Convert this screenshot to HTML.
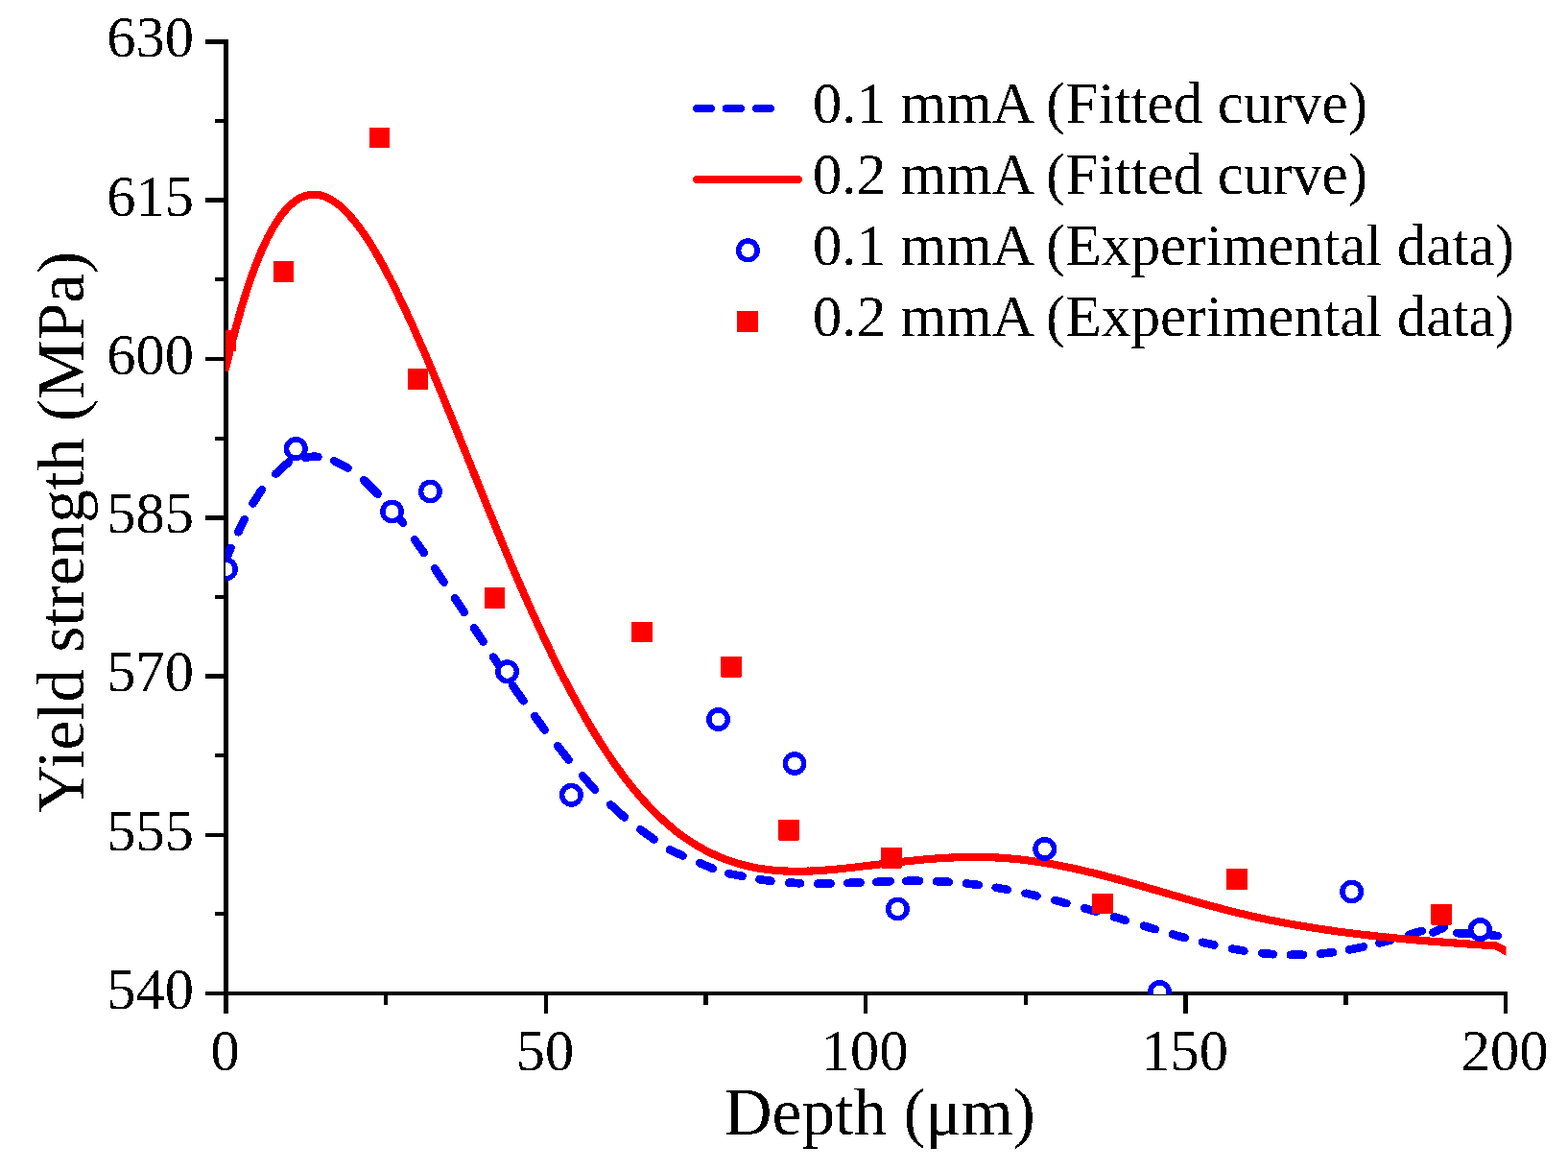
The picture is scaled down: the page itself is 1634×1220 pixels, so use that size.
<!DOCTYPE html>
<html><head><meta charset="utf-8"><title>Yield strength vs Depth</title>
<style>html,body{margin:0;padding:0;background:#fff;}svg{display:block;}
text{font-family:"Liberation Serif","Times New Roman",serif;fill:#000;}</style></head>
<body>
<svg width="1634" height="1220" viewBox="0 0 1634 1220">
<rect width="1634" height="1220" fill="#fff"/>
<defs><filter id="crisp" x="0" y="0" width="1634" height="1220" filterUnits="userSpaceOnUse" color-interpolation-filters="sRGB"><feComponentTransfer><feFuncA type="discrete" tableValues="0 1"/></feComponentTransfer></filter><clipPath id="plot"><rect x="235" y="0" width="1334.5" height="1036"/></clipPath></defs>
<g shape-rendering="crispEdges">
<rect x="233" y="41" width="5" height="1015" fill="#000"/>
<rect x="233" y="1033" width="1338" height="4" fill="#000"/>
<rect x="214" y="41" width="19" height="5" fill="#000"/>
<rect x="214" y="206" width="19" height="5" fill="#000"/>
<rect x="214" y="372" width="19" height="4" fill="#000"/>
<rect x="214" y="537" width="19" height="5" fill="#000"/>
<rect x="214" y="702" width="19" height="5" fill="#000"/>
<rect x="214" y="868" width="19" height="4" fill="#000"/>
<rect x="214" y="1033" width="19" height="4" fill="#000"/>
<rect x="224" y="124" width="9" height="4" fill="#000"/>
<rect x="224" y="289" width="9" height="4" fill="#000"/>
<rect x="224" y="455" width="9" height="4" fill="#000"/>
<rect x="224" y="620" width="9" height="4" fill="#000"/>
<rect x="224" y="785" width="9" height="4" fill="#000"/>
<rect x="224" y="950" width="9" height="4" fill="#000"/>
<rect x="233" y="1037" width="5" height="19" fill="#000"/>
<rect x="567" y="1037" width="4" height="19" fill="#000"/>
<rect x="900" y="1037" width="4" height="19" fill="#000"/>
<rect x="1233" y="1037" width="5" height="19" fill="#000"/>
<rect x="1567" y="1037" width="4" height="19" fill="#000"/>
<rect x="400" y="1037" width="4" height="10" fill="#000"/>
<rect x="733" y="1037" width="5" height="10" fill="#000"/>
<rect x="1067" y="1037" width="4" height="10" fill="#000"/>
<rect x="1400" y="1037" width="5" height="10" fill="#000"/>
</g>
<g clip-path="url(#plot)">
<path filter="url(#crisp)" d="M235.6,583.0 L236.2,581.2 L237.0,579.4 L237.8,577.5 L238.5,575.6 L239.2,573.8 L240.0,572.0 L240.5,570.8 M248.3,554.3 L254.7,541.2 M263.6,524.5 L272.7,510.2 M287.3,493.7 L300.8,481.4 M318.3,476.7 L318.8,476.7 L319.5,476.5 L320.2,476.4 L321.0,476.3 L321.8,476.2 L322.5,476.1 L323.2,476.0 L324.0,476.0 L324.8,475.9 L325.5,475.9 L326.2,475.9 L327.0,475.8 L327.8,475.8 L328.5,475.8 L329.2,475.9 L330.0,475.9 L330.8,475.9 L331.5,476.0 M348.3,480.2 L362.6,487.7 M379.0,500.0 L393.6,514.6 M409.3,531.6 L409.5,531.8 L410.2,532.7 L411.0,533.7 L411.8,534.6 L412.5,535.5 L413.2,536.5 L414.0,537.4 L414.8,538.3 L415.5,539.3 L416.2,540.2 L417.0,541.2 L417.8,542.2 L418.5,543.1 L419.2,544.1 L419.8,544.8 M432.2,562.4 L441.7,575.9 M453.2,592.3 L462.7,606.7 M474.2,623.4 L483.7,637.8 M494.1,654.3 L503.6,668.7 M514.2,684.6 L514.5,685.1 L515.2,686.2 L516.0,687.3 L516.8,688.4 L517.5,689.5 L518.2,690.7 L519.0,691.8 L519.8,692.9 L520.5,694.0 L521.2,695.1 L522.0,696.2 L522.8,697.3 L523.5,698.4 L523.7,698.7 M534.3,714.2 L534.8,714.9 L535.5,716.0 L536.2,717.1 L537.0,718.1 L537.8,719.2 L538.5,720.3 L539.2,721.4 L540.0,722.4 L540.8,723.5 L541.5,724.6 L542.2,725.7 L543.0,726.7 L543.8,727.8 L544.5,728.9 L545.2,729.9 L545.5,730.3 M557.2,746.1 L567.6,760.4 M581.2,777.2 L592.5,791.6 M607.2,808.3 L619.7,822.7 M636.3,838.3 L650.7,851.5 M667.4,864.2 L681.6,874.5 M698.2,885.4 L711.6,891.6 M729.3,899.2 L742.7,904.7 M759.3,910.3 L773.6,912.7 M791.4,916.2 L792.0,916.3 L792.8,916.4 L793.5,916.5 L794.2,916.6 L795.0,916.8 L795.8,916.9 L796.5,917.0 L797.2,917.1 L798.0,917.2 L798.8,917.3 L799.5,917.4 L800.2,917.5 L801.0,917.6 L801.8,917.7 L802.5,917.8 L803.2,917.9 L803.4,917.9 M822.2,919.6 L822.8,919.6 L823.5,919.7 L824.2,919.7 L825.0,919.8 L825.8,919.8 L826.5,919.9 L827.2,919.9 L828.0,919.9 L828.8,920.0 L829.5,920.0 L830.2,920.0 L831.0,920.1 L831.8,920.1 L832.5,920.1 L833.2,920.2 L834.0,920.2 L834.2,920.2 M852.3,920.6 L852.8,920.6 L853.5,920.6 L854.2,920.6 L855.0,920.6 L855.8,920.6 L856.5,920.6 L857.2,920.5 L858.0,920.5 L858.8,920.5 L859.5,920.5 L860.2,920.5 L861.0,920.5 L861.8,920.5 L862.5,920.5 L863.2,920.5 L864.0,920.5 L864.8,920.5 L865.5,920.5 L865.7,920.5 M883.3,920.0 L883.5,920.0 L884.2,920.0 L885.0,919.9 L885.8,919.9 L886.5,919.9 L887.2,919.9 L888.0,919.8 L888.8,919.8 L889.5,919.8 L890.2,919.8 L891.0,919.7 L891.8,919.7 L892.5,919.7 L893.2,919.6 L894.0,919.6 L894.8,919.6 L895.5,919.6 L896.2,919.5 L896.6,919.5 M913.3,918.8 L913.5,918.8 L914.2,918.8 L915.0,918.8 L915.8,918.7 L916.5,918.7 L917.2,918.7 L918.0,918.7 L918.8,918.6 L919.5,918.6 L920.2,918.6 L921.0,918.5 L921.8,918.5 L922.5,918.5 L923.2,918.5 L924.0,918.4 L924.8,918.4 L925.5,918.4 L926.2,918.4 L927.0,918.3 L927.7,918.3 M944.3,917.9 L945.0,917.9 L945.8,917.9 L946.5,917.9 L947.2,917.8 L948.0,917.8 L948.8,917.8 L949.5,917.8 L950.2,917.8 L951.0,917.8 L951.8,917.8 L952.5,917.8 L953.2,917.8 L954.0,917.8 L954.8,917.8 L955.5,917.8 L956.2,917.8 L957.0,917.8 L957.8,917.8 L958.0,917.8 M976.0,918.1 L976.5,918.2 L977.2,918.2 L978.0,918.2 L978.8,918.3 L979.5,918.3 L980.2,918.3 L981.0,918.4 L981.8,918.4 L982.5,918.4 L983.2,918.5 L984.0,918.5 L984.8,918.6 L985.5,918.6 L986.2,918.7 L987.0,918.7 L987.8,918.8 L988.5,918.8 L988.8,918.8 M1006.8,920.4 L1007.2,920.5 L1008.0,920.5 L1008.8,920.6 L1009.5,920.7 L1010.2,920.8 L1011.0,920.9 L1011.8,921.0 L1012.5,921.1 L1013.2,921.2 L1014.0,921.2 L1014.8,921.3 L1015.5,921.4 L1016.2,921.5 L1017.0,921.6 L1017.8,921.7 L1018.5,921.8 L1019.2,921.9 L1019.7,922.0 M1037.7,924.7 L1038.0,924.8 L1038.8,924.9 L1039.5,925.0 L1040.2,925.1 L1041.0,925.3 L1041.8,925.4 L1042.5,925.5 L1043.2,925.7 L1044.0,925.8 L1044.8,925.9 L1045.5,926.1 L1046.2,926.2 L1047.0,926.3 L1047.8,926.5 L1048.5,926.6 L1049.2,926.8 L1049.7,926.9 M1068.5,930.7 L1068.8,930.7 L1069.5,930.9 L1070.2,931.1 L1071.0,931.2 L1071.8,931.4 L1072.5,931.6 L1073.2,931.7 L1074.0,931.9 L1074.8,932.1 L1075.5,932.2 L1076.2,932.4 L1077.0,932.6 L1077.8,932.7 L1078.5,932.9 L1079.2,933.1 L1080.0,933.3 L1080.5,933.4 M1099.3,938.0 L1099.5,938.0 L1100.2,938.2 L1101.0,938.4 L1101.8,938.6 L1102.5,938.8 L1103.2,939.0 L1104.0,939.2 L1104.8,939.4 L1105.5,939.6 L1106.2,939.8 L1107.0,940.0 L1107.8,940.2 L1108.5,940.4 L1109.2,940.6 L1110.0,940.8 L1110.8,941.0 L1111.3,941.1 M1130.3,946.3 L1131.0,946.5 L1131.8,946.8 L1132.5,947.0 L1133.2,947.2 L1134.0,947.4 L1134.8,947.6 L1135.5,947.8 L1136.2,948.0 L1137.0,948.3 L1137.8,948.5 L1138.5,948.7 L1139.2,948.9 L1140.0,949.1 L1140.8,949.3 L1141.5,949.5 L1142.2,949.8 M1161.1,955.3 L1161.8,955.5 L1162.5,955.7 L1163.2,956.0 L1164.0,956.2 L1164.8,956.4 L1165.5,956.6 L1166.2,956.9 L1167.0,957.1 L1167.8,957.3 L1168.5,957.5 L1169.2,957.8 L1170.0,958.0 L1170.8,958.2 L1171.5,958.4 L1172.2,958.7 L1173.0,958.9 M1191.9,964.6 L1192.5,964.8 L1193.2,965.0 L1194.0,965.2 L1194.8,965.5 L1195.5,965.7 L1196.2,965.9 L1197.0,966.1 L1197.8,966.4 L1198.5,966.6 L1199.2,966.8 L1200.0,967.0 L1200.8,967.2 L1201.5,967.5 L1202.2,967.7 L1203.0,967.9 L1203.8,968.1 L1203.9,968.2 M1221.9,973.4 L1222.5,973.6 L1223.2,973.8 L1224.0,974.0 L1224.8,974.2 L1225.5,974.4 L1226.2,974.6 L1227.0,974.8 L1227.8,975.1 L1228.5,975.3 L1229.2,975.5 L1230.0,975.7 L1230.8,975.9 L1231.5,976.1 L1232.2,976.3 L1233.0,976.5 L1233.8,976.7 L1234.5,976.9 L1234.9,977.0 M1253.0,981.7 L1253.2,981.7 L1254.0,981.9 L1254.8,982.1 L1255.5,982.3 L1256.2,982.5 L1257.0,982.7 L1257.8,982.8 L1258.5,983.0 L1259.2,983.2 L1260.0,983.4 L1260.8,983.5 L1261.5,983.7 L1262.2,983.9 L1263.0,984.1 L1263.8,984.2 L1264.5,984.4 L1265.2,984.6 L1265.3,984.6 M1284.1,988.5 L1284.8,988.6 L1285.5,988.7 L1286.2,988.9 L1287.0,989.0 L1287.8,989.1 L1288.5,989.3 L1289.2,989.4 L1290.0,989.5 L1290.8,989.6 L1291.5,989.8 L1292.2,989.9 L1293.0,990.0 L1293.8,990.1 L1294.5,990.3 L1295.2,990.4 L1296.0,990.5 L1296.4,990.6 M1315.2,993.1 L1315.5,993.1 L1316.2,993.2 L1317.0,993.3 L1317.8,993.3 L1318.5,993.4 L1319.2,993.5 L1320.0,993.6 L1320.8,993.6 L1321.5,993.7 L1322.2,993.8 L1323.0,993.8 L1323.8,993.9 L1324.5,993.9 L1325.2,994.0 L1326.0,994.1 L1326.8,994.1 L1326.9,994.1 M1344.9,994.9 L1345.5,994.9 L1346.2,994.9 L1347.0,994.9 L1347.8,994.9 L1348.5,994.9 L1349.2,994.9 L1350.0,994.9 L1350.8,994.9 L1351.5,994.9 L1352.2,994.9 L1353.0,994.9 L1353.8,994.9 L1354.5,994.8 L1355.2,994.8 L1356.0,994.8 L1356.8,994.8 L1357.5,994.8 L1358.0,994.7 M1376.0,993.6 L1376.2,993.5 L1377.0,993.5 L1377.8,993.4 L1378.5,993.3 L1379.2,993.2 L1380.0,993.2 L1380.8,993.1 L1381.5,993.0 L1382.2,992.9 L1383.0,992.8 L1383.8,992.7 L1384.5,992.6 L1385.2,992.6 L1386.0,992.5 L1386.8,992.4 L1387.5,992.3 L1388.2,992.2 L1389.0,992.1 L1389.1,992.1 M1406.1,989.4 L1406.2,989.3 L1407.0,989.2 L1407.8,989.1 L1408.5,988.9 L1409.2,988.8 L1410.0,988.6 L1410.8,988.5 L1411.5,988.3 L1412.2,988.2 L1413.0,988.0 L1413.8,987.9 L1414.5,987.7 L1415.2,987.6 L1416.0,987.4 L1416.8,987.3 L1417.5,987.1 L1418.2,987.0 L1419.0,986.8 L1419.8,986.7 L1420.5,986.5 L1420.8,986.4 M1437.3,982.5 L1437.8,982.4 L1438.5,982.2 L1439.2,982.0 L1440.0,981.9 L1440.8,981.7 L1441.5,981.5 L1442.2,981.3 L1443.0,981.1 L1443.8,980.9 L1444.5,980.7 L1445.2,980.5 L1446.0,980.3 L1446.8,980.1 L1447.5,979.9 L1448.2,979.7 L1449.0,979.5 L1449.6,979.3 M1468.3,973.9 L1468.5,973.8 L1469.2,973.6 L1470.0,973.4 L1470.8,973.1 L1471.5,972.9 L1472.2,972.7 L1473.0,972.4 L1473.8,972.2 L1474.5,972.0 L1475.2,971.7 L1476.0,971.5 L1476.8,971.3 L1477.5,971.0 L1478.2,970.8 L1479.0,970.6 L1479.8,970.3 L1480.5,970.1 L1481.2,969.9 L1481.7,969.7 M1493.3,971.4 L1498.0,969.5 L1504.8,966.1 M1518.3,972.1 L1528.5,972.3 L1531.7,972.5 M1548.3,973.8 L1560.7,975.0" stroke="#0000ff" stroke-width="8.6" stroke-linecap="round" stroke-linejoin="round" fill="none"/>
<path filter="url(#crisp)" d="M235.5,382.9 L236.2,379.6 L237.0,376.4 L237.8,373.3 L238.5,370.1 L239.2,367.0 L240.0,364.0 L240.8,360.9 L241.5,357.9 L242.2,355.0 L243.0,352.0 L243.8,349.1 L244.5,346.3 L245.2,343.4 L246.0,340.6 L246.8,337.9 L247.5,335.1 L248.2,332.4 L249.0,329.7 L249.8,327.1 L250.5,324.5 L251.2,321.9 L252.0,319.4 L252.8,316.8 L253.5,314.4 L254.2,311.9 L255.0,309.5 L255.8,307.1 L256.5,304.7 L257.2,302.4 L258.0,300.1 L258.8,297.8 L259.5,295.6 L260.2,293.4 L261.0,291.2 L261.8,289.0 L262.5,286.9 L263.2,284.8 L264.0,282.8 L264.8,280.7 L265.5,278.7 L266.2,276.8 L267.0,274.8 L267.8,272.9 L268.5,271.0 L269.2,269.1 L270.0,267.3 L270.8,265.5 L271.5,263.7 L272.2,262.0 L273.0,260.3 L273.8,258.6 L274.5,256.9 L275.2,255.3 L276.0,253.7 L276.8,252.1 L277.5,250.6 L278.2,249.0 L279.0,247.5 L279.8,246.1 L280.5,244.6 L281.2,243.2 L282.0,241.8 L282.8,240.5 L283.5,239.1 L284.2,237.8 L285.0,236.5 L285.8,235.3 L286.5,234.0 L287.2,232.8 L288.0,231.6 L288.8,230.5 L289.5,229.4 L290.2,228.3 L291.0,227.2 L291.8,226.1 L292.5,225.1 L293.2,224.1 L294.0,223.1 L294.8,222.1 L295.5,221.2 L296.2,220.3 L297.0,219.4 L297.8,218.6 L298.5,217.7 L299.2,216.9 L300.0,216.1 L300.8,215.4 L301.5,214.6 L302.2,213.9 L303.0,213.2 L303.8,212.6 L304.5,211.9 L305.2,211.3 L306.0,210.7 L306.8,210.1 L307.5,209.6 L308.2,209.0 L309.0,208.5 L309.8,208.0 L310.5,207.6 L311.2,207.1 L312.0,206.7 L312.8,206.3 L313.5,205.9 L314.2,205.6 L315.0,205.2 L315.8,204.9 L316.5,204.6 L317.2,204.3 L318.0,204.1 L318.8,203.9 L319.5,203.6 L320.2,203.5 L321.0,203.3 L321.8,203.1 L322.5,203.0 L323.2,202.9 L324.0,202.8 L324.8,202.7 L325.5,202.7 L326.2,202.7 L327.0,202.7 L327.8,202.7 L328.5,202.7 L329.2,202.7 L330.0,202.8 L330.8,202.9 L331.5,203.0 L332.2,203.1 L333.0,203.3 L333.8,203.4 L334.5,203.6 L335.2,203.8 L336.0,204.0 L336.8,204.3 L337.5,204.5 L338.2,204.8 L339.0,205.1 L339.8,205.4 L340.5,205.7 L341.2,206.0 L342.0,206.4 L342.8,206.8 L343.5,207.2 L344.2,207.6 L345.0,208.0 L345.8,208.4 L346.5,208.9 L347.2,209.4 L348.0,209.9 L348.8,210.4 L349.5,210.9 L350.2,211.4 L351.0,212.0 L351.8,212.6 L352.5,213.2 L353.2,213.8 L354.0,214.4 L354.8,215.0 L355.5,215.7 L356.2,216.4 L357.0,217.0 L357.8,217.7 L358.5,218.4 L359.2,219.2 L360.0,219.9 L360.8,220.7 L361.5,221.4 L362.2,222.2 L363.0,223.0 L363.8,223.9 L364.5,224.7 L365.2,225.5 L366.0,226.4 L366.8,227.3 L367.5,228.1 L368.2,229.0 L369.0,229.9 L369.8,230.9 L370.5,231.8 L371.2,232.8 L372.0,233.7 L372.8,234.7 L373.5,235.7 L374.2,236.7 L375.0,237.7 L375.8,238.8 L376.5,239.8 L377.2,240.8 L378.0,241.9 L378.8,243.0 L379.5,244.1 L380.2,245.2 L381.0,246.3 L381.8,247.4 L382.5,248.6 L383.2,249.7 L384.0,250.9 L384.8,252.0 L385.5,253.2 L386.2,254.4 L387.0,255.6 L387.8,256.8 L388.5,258.1 L389.2,259.3 L390.0,260.5 L390.8,261.8 L391.5,263.1 L392.2,264.4 L393.0,265.6 L393.8,266.9 L394.5,268.2 L395.2,269.6 L396.0,270.9 L396.8,272.2 L397.5,273.6 L398.2,274.9 L399.0,276.3 L399.8,277.7 L400.5,279.1 L401.2,280.4 L402.0,281.8 L402.8,283.3 L403.5,284.7 L404.2,286.1 L405.0,287.5 L405.8,289.0 L406.5,290.4 L407.2,291.9 L408.0,293.4 L408.8,294.8 L409.5,296.3 L410.2,297.8 L411.0,299.3 L411.8,300.8 L412.5,302.3 L413.2,303.8 L414.0,305.4 L414.8,306.9 L415.5,308.5 L416.2,310.0 L417.0,311.6 L417.8,313.1 L418.5,314.7 L419.2,316.3 L420.0,317.8 L420.8,319.4 L421.5,321.0 L422.2,322.6 L423.0,324.2 L423.8,325.8 L424.5,327.4 L425.2,329.1 L426.0,330.7 L426.8,332.3 L427.5,334.0 L428.2,335.6 L429.0,337.3 L429.8,338.9 L430.5,340.6 L431.2,342.2 L432.0,343.9 L432.8,345.6 L433.5,347.3 L434.2,349.0 L435.0,350.7 L435.8,352.3 L436.5,354.1 L437.2,355.8 L438.0,357.5 L438.8,359.2 L439.5,360.9 L440.2,362.6 L441.0,364.4 L441.8,366.1 L442.5,367.8 L443.2,369.6 L444.0,371.3 L444.8,373.1 L445.5,374.8 L446.2,376.6 L447.0,378.3 L447.8,380.1 L448.5,381.9 L449.2,383.6 L450.0,385.4 L450.8,387.2 L451.5,389.0 L452.2,390.8 L453.0,392.5 L453.8,394.3 L454.5,396.1 L455.2,397.9 L456.0,399.7 L456.8,401.5 L457.5,403.3 L458.2,405.2 L459.0,407.0 L459.8,408.8 L460.5,410.6 L461.2,412.4 L462.0,414.2 L462.8,416.1 L463.5,417.9 L464.2,419.7 L465.0,421.6 L465.8,423.4 L466.5,425.2 L467.2,427.1 L468.0,428.9 L468.8,430.8 L469.5,432.6 L470.2,434.4 L471.0,436.3 L471.8,438.1 L472.5,440.0 L473.2,441.8 L474.0,443.7 L474.8,445.6 L475.5,447.4 L476.2,449.3 L477.0,451.1 L477.8,453.0 L478.5,454.9 L479.2,456.7 L480.0,458.6 L480.8,460.4 L481.5,462.3 L482.2,464.2 L483.0,466.0 L483.8,467.9 L484.5,469.8 L485.2,471.6 L486.0,473.5 L486.8,475.4 L487.5,477.2 L488.2,479.1 L489.0,481.0 L489.8,482.9 L490.5,484.7 L491.2,486.6 L492.0,488.5 L492.8,490.3 L493.5,492.2 L494.2,494.1 L495.0,495.9 L495.8,497.8 L496.5,499.7 L497.2,501.5 L498.0,503.4 L498.8,505.3 L499.5,507.1 L500.2,509.0 L501.0,510.8 L501.8,512.7 L502.5,514.6 L503.2,516.4 L504.0,518.3 L504.8,520.1 L505.5,522.0 L506.2,523.8 L507.0,525.7 L507.8,527.5 L508.5,529.4 L509.2,531.2 L510.0,533.1 L510.8,534.9 L511.5,536.8 L512.2,538.6 L513.0,540.4 L513.8,542.3 L514.5,544.1 L515.2,545.9 L516.0,547.8 L516.8,549.6 L517.5,551.4 L518.2,553.2 L519.0,555.0 L519.8,556.9 L520.5,558.7 L521.2,560.5 L522.0,562.3 L522.8,564.1 L523.5,565.9 L524.2,567.7 L525.0,569.5 L525.8,571.3 L526.5,573.1 L527.2,574.9 L528.0,576.6 L528.8,578.4 L529.5,580.2 L530.2,582.0 L531.0,583.8 L531.8,585.5 L532.5,587.3 L533.2,589.1 L534.0,590.8 L534.8,592.6 L535.5,594.3 L536.2,596.1 L537.0,597.8 L537.8,599.6 L538.5,601.3 L539.2,603.1 L540.0,604.8 L540.8,606.5 L541.5,608.3 L542.2,610.0 L543.0,611.7 L543.8,613.4 L544.5,615.1 L545.2,616.8 L546.0,618.6 L546.8,620.3 L547.5,622.0 L548.2,623.7 L549.0,625.3 L549.8,627.0 L550.5,628.7 L551.2,630.4 L552.0,632.1 L552.8,633.8 L553.5,635.4 L554.2,637.1 L555.0,638.8 L555.8,640.4 L556.5,642.1 L557.2,643.7 L558.0,645.4 L558.8,647.0 L559.5,648.6 L560.2,650.3 L561.0,651.9 L561.8,653.5 L562.5,655.1 L563.2,656.8 L564.0,658.4 L564.8,660.0 L565.5,661.6 L566.2,663.2 L567.0,664.8 L567.8,666.4 L568.5,667.9 L569.2,669.5 L570.0,671.1 L570.8,672.7 L571.5,674.2 L572.2,675.8 L573.0,677.4 L573.8,678.9 L574.5,680.5 L575.2,682.0 L576.0,683.5 L576.8,685.1 L577.5,686.6 L578.2,688.1 L579.0,689.6 L579.8,691.2 L580.5,692.7 L581.2,694.2 L582.0,695.7 L582.8,697.2 L583.5,698.7 L584.2,700.1 L585.0,701.6 L585.8,703.1 L586.5,704.6 L587.2,706.0 L588.0,707.5 L588.8,708.9 L589.5,710.4 L590.2,711.8 L591.0,713.2 L591.8,714.7 L592.5,716.1 L593.2,717.5 L594.0,718.9 L594.8,720.3 L595.5,721.7 L596.2,723.1 L597.0,724.5 L597.8,725.9 L598.5,727.3 L599.2,728.7 L600.0,730.0 L600.8,731.4 L601.5,732.8 L602.2,734.1 L603.0,735.5 L603.8,736.8 L604.5,738.2 L605.2,739.5 L606.0,740.8 L606.8,742.1 L607.5,743.5 L608.2,744.8 L609.0,746.1 L609.8,747.4 L610.5,748.7 L611.2,750.0 L612.0,751.2 L612.8,752.5 L613.5,753.8 L614.2,755.1 L615.0,756.3 L615.8,757.6 L616.5,758.8 L617.2,760.1 L618.0,761.3 L618.8,762.5 L619.5,763.8 L620.2,765.0 L621.0,766.2 L621.8,767.4 L622.5,768.6 L623.2,769.8 L624.0,771.0 L624.8,772.2 L625.5,773.4 L626.2,774.6 L627.0,775.7 L627.8,776.9 L628.5,778.1 L629.2,779.2 L630.0,780.4 L630.8,781.5 L631.5,782.6 L632.2,783.8 L633.0,784.9 L633.8,786.0 L634.5,787.1 L635.2,788.2 L636.0,789.3 L636.8,790.4 L637.5,791.5 L638.2,792.6 L639.0,793.7 L639.8,794.8 L640.5,795.8 L641.2,796.9 L642.0,798.0 L642.8,799.0 L643.5,800.1 L644.2,801.1 L645.0,802.1 L645.8,803.1 L646.5,804.2 L647.2,805.2 L648.0,806.2 L648.8,807.2 L649.5,808.2 L650.2,809.2 L651.0,810.2 L651.8,811.2 L652.5,812.1 L653.2,813.1 L654.0,814.1 L654.8,815.0 L655.5,816.0 L656.2,816.9 L657.0,817.9 L657.8,818.8 L658.5,819.7 L659.2,820.6 L660.0,821.6 L660.8,822.5 L661.5,823.4 L662.2,824.3 L663.0,825.2 L663.8,826.1 L664.5,826.9 L665.2,827.8 L666.0,828.7 L666.8,829.6 L667.5,830.4 L668.2,831.3 L669.0,832.1 L669.8,833.0 L670.5,833.8 L671.2,834.6 L672.0,835.5 L672.8,836.3 L673.5,837.1 L674.2,837.9 L675.0,838.7 L675.8,839.5 L676.5,840.3 L677.2,841.1 L678.0,841.9 L678.8,842.6 L679.5,843.4 L680.2,844.2 L681.0,844.9 L681.8,845.7 L682.5,846.4 L683.2,847.2 L684.0,847.9 L684.8,848.6 L685.5,849.4 L686.2,850.1 L687.0,850.8 L687.8,851.5 L688.5,852.2 L689.2,852.9 L690.0,853.6 L690.8,854.3 L691.5,855.0 L692.2,855.7 L693.0,856.3 L693.8,857.0 L694.5,857.7 L695.2,858.3 L696.0,859.0 L696.8,859.6 L697.5,860.2 L698.2,860.9 L699.0,861.5 L699.8,862.1 L700.5,862.7 L701.2,863.4 L702.0,864.0 L702.8,864.6 L703.5,865.2 L704.2,865.8 L705.0,866.3 L705.8,866.9 L706.5,867.5 L707.2,868.1 L708.0,868.6 L708.8,869.2 L709.5,869.8 L710.2,870.3 L711.0,870.9 L711.8,871.4 L712.5,871.9 L713.2,872.5 L714.0,873.0 L714.8,873.5 L715.5,874.0 L716.2,874.5 L717.0,875.1 L717.8,875.6 L718.5,876.1 L719.2,876.6 L720.0,877.0 L720.8,877.5 L721.5,878.0 L722.2,878.5 L723.0,878.9 L723.8,879.4 L724.5,879.9 L725.2,880.3 L726.0,880.8 L726.8,881.2 L727.5,881.7 L728.2,882.1 L729.0,882.5 L729.8,883.0 L730.5,883.4 L731.2,883.8 L732.0,884.2 L732.8,884.6 L733.5,885.0 L734.2,885.4 L735.0,885.8 L735.8,886.2 L736.5,886.6 L737.2,887.0 L738.0,887.4 L738.8,887.8 L739.5,888.1 L740.2,888.5 L741.0,888.9 L741.8,889.2 L742.5,889.6 L743.2,889.9 L744.0,890.3 L744.8,890.6 L745.5,891.0 L746.2,891.3 L747.0,891.6 L747.8,892.0 L748.5,892.3 L749.2,892.6 L750.0,892.9 L750.8,893.2 L751.5,893.5 L752.2,893.8 L753.0,894.1 L753.8,894.4 L754.5,894.7 L755.2,895.0 L756.0,895.3 L756.8,895.6 L757.5,895.9 L758.2,896.1 L759.0,896.4 L759.8,896.7 L760.5,896.9 L761.2,897.2 L762.0,897.4 L762.8,897.7 L763.5,897.9 L764.2,898.2 L765.0,898.4 L765.8,898.7 L766.5,898.9 L767.2,899.1 L768.0,899.3 L768.8,899.6 L769.5,899.8 L770.2,900.0 L771.0,900.2 L771.8,900.4 L772.5,900.6 L773.2,900.8 L774.0,901.0 L774.8,901.2 L775.5,901.4 L776.2,901.6 L777.0,901.8 L777.8,902.0 L778.5,902.1 L779.2,902.3 L780.0,902.5 L780.8,902.7 L781.5,902.8 L782.2,903.0 L783.0,903.2 L783.8,903.3 L784.5,903.5 L785.2,903.6 L786.0,903.8 L786.8,903.9 L787.5,904.0 L788.2,904.2 L789.0,904.3 L789.8,904.5 L790.5,904.6 L791.2,904.7 L792.0,904.8 L792.8,905.0 L793.5,905.1 L794.2,905.2 L795.0,905.3 L795.8,905.4 L796.5,905.5 L797.2,905.6 L798.0,905.7 L798.8,905.8 L799.5,905.9 L800.2,906.0 L801.0,906.1 L801.8,906.2 L802.5,906.3 L803.2,906.4 L804.0,906.4 L804.8,906.5 L805.5,906.6 L806.2,906.7 L807.0,906.7 L807.8,906.8 L808.5,906.9 L809.2,906.9 L810.0,907.0 L810.8,907.1 L811.5,907.1 L812.2,907.2 L813.0,907.2 L813.8,907.3 L814.5,907.3 L815.2,907.4 L816.0,907.4 L816.8,907.4 L817.5,907.5 L818.2,907.5 L819.0,907.5 L819.8,907.6 L820.5,907.6 L821.2,907.6 L822.0,907.7 L822.8,907.7 L823.5,907.7 L824.2,907.7 L825.0,907.7 L825.8,907.7 L826.5,907.8 L827.2,907.8 L828.0,907.8 L828.8,907.8 L829.5,907.8 L830.2,907.8 L831.0,907.8 L831.8,907.8 L832.5,907.8 L833.2,907.8 L834.0,907.8 L834.8,907.8 L835.5,907.8 L836.2,907.8 L837.0,907.7 L837.8,907.7 L838.5,907.7 L839.2,907.7 L840.0,907.7 L840.8,907.6 L841.5,907.6 L842.2,907.6 L843.0,907.6 L843.8,907.5 L844.5,907.5 L845.2,907.5 L846.0,907.4 L846.8,907.4 L847.5,907.4 L848.2,907.3 L849.0,907.3 L849.8,907.3 L850.5,907.2 L851.2,907.2 L852.0,907.1 L852.8,907.1 L853.5,907.0 L854.2,907.0 L855.0,906.9 L855.8,906.9 L856.5,906.8 L857.2,906.8 L858.0,906.7 L858.8,906.7 L859.5,906.6 L860.2,906.6 L861.0,906.5 L861.8,906.5 L862.5,906.4 L863.2,906.3 L864.0,906.3 L864.8,906.2 L865.5,906.1 L866.2,906.1 L867.0,906.0 L867.8,905.9 L868.5,905.9 L869.2,905.8 L870.0,905.7 L870.8,905.7 L871.5,905.6 L872.2,905.5 L873.0,905.4 L873.8,905.4 L874.5,905.3 L875.2,905.2 L876.0,905.1 L876.8,905.1 L877.5,905.0 L878.2,904.9 L879.0,904.8 L879.8,904.7 L880.5,904.7 L881.2,904.6 L882.0,904.5 L882.8,904.4 L883.5,904.3 L884.2,904.3 L885.0,904.2 L885.8,904.1 L886.5,904.0 L887.2,903.9 L888.0,903.8 L888.8,903.7 L889.5,903.7 L890.2,903.6 L891.0,903.5 L891.8,903.4 L892.5,903.3 L893.2,903.2 L894.0,903.1 L894.8,903.1 L895.5,903.0 L896.2,902.9 L897.0,902.8 L897.8,902.7 L898.5,902.6 L899.2,902.5 L900.0,902.4 L900.8,902.3 L901.5,902.3 L902.2,902.2 L903.0,902.1 L903.8,902.0 L904.5,901.9 L905.2,901.8 L906.0,901.7 L906.8,901.6 L907.5,901.5 L908.2,901.4 L909.0,901.4 L909.8,901.3 L910.5,901.2 L911.2,901.1 L912.0,901.0 L912.8,900.9 L913.5,900.8 L914.2,900.7 L915.0,900.6 L915.8,900.5 L916.5,900.5 L917.2,900.4 L918.0,900.3 L918.8,900.2 L919.5,900.1 L920.2,900.0 L921.0,899.9 L921.8,899.8 L922.5,899.8 L923.2,899.7 L924.0,899.6 L924.8,899.5 L925.5,899.4 L926.2,899.3 L927.0,899.2 L927.8,899.1 L928.5,899.1 L929.2,899.0 L930.0,898.9 L930.8,898.8 L931.5,898.7 L932.2,898.6 L933.0,898.5 L933.8,898.5 L934.5,898.4 L935.2,898.3 L936.0,898.2 L936.8,898.1 L937.5,898.0 L938.2,898.0 L939.0,897.9 L939.8,897.8 L940.5,897.7 L941.2,897.6 L942.0,897.5 L942.8,897.5 L943.5,897.4 L944.2,897.3 L945.0,897.2 L945.8,897.2 L946.5,897.1 L947.2,897.0 L948.0,896.9 L948.8,896.8 L949.5,896.8 L950.2,896.7 L951.0,896.6 L951.8,896.5 L952.5,896.5 L953.2,896.4 L954.0,896.3 L954.8,896.2 L955.5,896.2 L956.2,896.1 L957.0,896.0 L957.8,896.0 L958.5,895.9 L959.2,895.8 L960.0,895.7 L960.8,895.7 L961.5,895.6 L962.2,895.5 L963.0,895.5 L963.8,895.4 L964.5,895.3 L965.2,895.3 L966.0,895.2 L966.8,895.2 L967.5,895.1 L968.2,895.0 L969.0,895.0 L969.8,894.9 L970.5,894.9 L971.2,894.8 L972.0,894.7 L972.8,894.7 L973.5,894.6 L974.2,894.6 L975.0,894.5 L975.8,894.5 L976.5,894.4 L977.2,894.3 L978.0,894.3 L978.8,894.2 L979.5,894.2 L980.2,894.1 L981.0,894.1 L981.8,894.0 L982.5,894.0 L983.2,894.0 L984.0,893.9 L984.8,893.9 L985.5,893.8 L986.2,893.8 L987.0,893.7 L987.8,893.7 L988.5,893.7 L989.2,893.6 L990.0,893.6 L990.8,893.5 L991.5,893.5 L992.2,893.5 L993.0,893.4 L993.8,893.4 L994.5,893.4 L995.2,893.3 L996.0,893.3 L996.8,893.3 L997.5,893.2 L998.2,893.2 L999.0,893.2 L999.8,893.2 L1000.5,893.1 L1001.2,893.1 L1002.0,893.1 L1002.8,893.1 L1003.5,893.1 L1004.2,893.0 L1005.0,893.0 L1005.8,893.0 L1006.5,893.0 L1007.2,893.0 L1008.0,893.0 L1008.8,892.9 L1009.5,892.9 L1010.2,892.9 L1011.0,892.9 L1011.8,892.9 L1012.5,892.9 L1013.2,892.9 L1014.0,892.9 L1014.8,892.9 L1015.5,892.9 L1016.2,892.9 L1017.0,892.9 L1017.8,892.9 L1018.5,892.9 L1019.2,892.9 L1020.0,892.9 L1020.8,892.9 L1021.5,892.9 L1022.2,892.9 L1023.0,892.9 L1023.8,893.0 L1024.5,893.0 L1025.2,893.0 L1026.0,893.0 L1026.8,893.0 L1027.5,893.0 L1028.2,893.1 L1029.0,893.1 L1029.8,893.1 L1030.5,893.1 L1031.2,893.1 L1032.0,893.2 L1032.8,893.2 L1033.5,893.2 L1034.2,893.3 L1035.0,893.3 L1035.8,893.3 L1036.5,893.4 L1037.2,893.4 L1038.0,893.4 L1038.8,893.5 L1039.5,893.5 L1040.2,893.6 L1041.0,893.6 L1041.8,893.7 L1042.5,893.7 L1043.2,893.8 L1044.0,893.8 L1044.8,893.9 L1045.5,893.9 L1046.2,894.0 L1047.0,894.0 L1047.8,894.1 L1048.5,894.1 L1049.2,894.2 L1050.0,894.2 L1050.8,894.3 L1051.5,894.4 L1052.2,894.4 L1053.0,894.5 L1053.8,894.6 L1054.5,894.6 L1055.2,894.7 L1056.0,894.8 L1056.8,894.8 L1057.5,894.9 L1058.2,895.0 L1059.0,895.1 L1059.8,895.1 L1060.5,895.2 L1061.2,895.3 L1062.0,895.4 L1062.8,895.5 L1063.5,895.5 L1064.2,895.6 L1065.0,895.7 L1065.8,895.8 L1066.5,895.9 L1067.2,896.0 L1068.0,896.1 L1068.8,896.2 L1069.5,896.3 L1070.2,896.4 L1071.0,896.4 L1071.8,896.5 L1072.5,896.6 L1073.2,896.7 L1074.0,896.8 L1074.8,896.9 L1075.5,897.0 L1076.2,897.1 L1077.0,897.3 L1077.8,897.4 L1078.5,897.5 L1079.2,897.6 L1080.0,897.7 L1080.8,897.8 L1081.5,897.9 L1082.2,898.0 L1083.0,898.1 L1083.8,898.2 L1084.5,898.4 L1085.2,898.5 L1086.0,898.6 L1086.8,898.7 L1087.5,898.8 L1088.2,899.0 L1089.0,899.1 L1089.8,899.2 L1090.5,899.3 L1091.2,899.5 L1092.0,899.6 L1092.8,899.7 L1093.5,899.8 L1094.2,900.0 L1095.0,900.1 L1095.8,900.2 L1096.5,900.4 L1097.2,900.5 L1098.0,900.6 L1098.8,900.8 L1099.5,900.9 L1100.2,901.1 L1101.0,901.2 L1101.8,901.3 L1102.5,901.5 L1103.2,901.6 L1104.0,901.8 L1104.8,901.9 L1105.5,902.1 L1106.2,902.2 L1107.0,902.3 L1107.8,902.5 L1108.5,902.6 L1109.2,902.8 L1110.0,902.9 L1110.8,903.1 L1111.5,903.3 L1112.2,903.4 L1113.0,903.6 L1113.8,903.7 L1114.5,903.9 L1115.2,904.0 L1116.0,904.2 L1116.8,904.4 L1117.5,904.5 L1118.2,904.7 L1119.0,904.8 L1119.8,905.0 L1120.5,905.2 L1121.2,905.3 L1122.0,905.5 L1122.8,905.7 L1123.5,905.8 L1124.2,906.0 L1125.0,906.2 L1125.8,906.3 L1126.5,906.5 L1127.2,906.7 L1128.0,906.9 L1128.8,907.0 L1129.5,907.2 L1130.2,907.4 L1131.0,907.6 L1131.8,907.7 L1132.5,907.9 L1133.2,908.1 L1134.0,908.3 L1134.8,908.5 L1135.5,908.6 L1136.2,908.8 L1137.0,909.0 L1137.8,909.2 L1138.5,909.4 L1139.2,909.5 L1140.0,909.7 L1140.8,909.9 L1141.5,910.1 L1142.2,910.3 L1143.0,910.5 L1143.8,910.7 L1144.5,910.9 L1145.2,911.0 L1146.0,911.2 L1146.8,911.4 L1147.5,911.6 L1148.2,911.8 L1149.0,912.0 L1149.8,912.2 L1150.5,912.4 L1151.2,912.6 L1152.0,912.8 L1152.8,913.0 L1153.5,913.2 L1154.2,913.4 L1155.0,913.6 L1155.8,913.8 L1156.5,914.0 L1157.2,914.2 L1158.0,914.4 L1158.8,914.6 L1159.5,914.8 L1160.2,915.0 L1161.0,915.2 L1161.8,915.4 L1162.5,915.6 L1163.2,915.8 L1164.0,916.0 L1164.8,916.2 L1165.5,916.4 L1166.2,916.6 L1167.0,916.8 L1167.8,917.0 L1168.5,917.2 L1169.2,917.4 L1170.0,917.6 L1170.8,917.8 L1171.5,918.0 L1172.2,918.2 L1173.0,918.4 L1173.8,918.6 L1174.5,918.9 L1175.2,919.1 L1176.0,919.3 L1176.8,919.5 L1177.5,919.7 L1178.2,919.9 L1179.0,920.1 L1179.8,920.3 L1180.5,920.5 L1181.2,920.8 L1182.0,921.0 L1182.8,921.2 L1183.5,921.4 L1184.2,921.6 L1185.0,921.8 L1185.8,922.0 L1186.5,922.2 L1187.2,922.5 L1188.0,922.7 L1188.8,922.9 L1189.5,923.1 L1190.2,923.3 L1191.0,923.5 L1191.8,923.7 L1192.5,924.0 L1193.2,924.2 L1194.0,924.4 L1194.8,924.6 L1195.5,924.8 L1196.2,925.0 L1197.0,925.3 L1197.8,925.5 L1198.5,925.7 L1199.2,925.9 L1200.0,926.1 L1200.8,926.3 L1201.5,926.6 L1202.2,926.8 L1203.0,927.0 L1203.8,927.2 L1204.5,927.4 L1205.2,927.6 L1206.0,927.9 L1206.8,928.1 L1207.5,928.3 L1208.2,928.5 L1209.0,928.7 L1209.8,929.0 L1210.5,929.2 L1211.2,929.4 L1212.0,929.6 L1212.8,929.8 L1213.5,930.0 L1214.2,930.3 L1215.0,930.5 L1215.8,930.7 L1216.5,930.9 L1217.2,931.1 L1218.0,931.4 L1218.8,931.6 L1219.5,931.8 L1220.2,932.0 L1221.0,932.2 L1221.8,932.5 L1222.5,932.7 L1223.2,932.9 L1224.0,933.1 L1224.8,933.3 L1225.5,933.5 L1226.2,933.8 L1227.0,934.0 L1227.8,934.2 L1228.5,934.4 L1229.2,934.6 L1230.0,934.8 L1230.8,935.1 L1231.5,935.3 L1232.2,935.5 L1233.0,935.7 L1233.8,935.9 L1234.5,936.1 L1235.2,936.4 L1236.0,936.6 L1236.8,936.8 L1237.5,937.0 L1238.2,937.2 L1239.0,937.4 L1239.8,937.6 L1240.5,937.9 L1241.2,938.1 L1242.0,938.3 L1242.8,938.5 L1243.5,938.7 L1244.2,938.9 L1245.0,939.1 L1245.8,939.3 L1246.5,939.6 L1247.2,939.8 L1248.0,940.0 L1248.8,940.2 L1249.5,940.4 L1250.2,940.6 L1251.0,940.8 L1251.8,941.0 L1252.5,941.2 L1253.2,941.5 L1254.0,941.7 L1254.8,941.9 L1255.5,942.1 L1256.2,942.3 L1257.0,942.5 L1257.8,942.7 L1258.5,942.9 L1259.2,943.1 L1260.0,943.3 L1260.8,943.5 L1261.5,943.7 L1262.2,943.9 L1263.0,944.1 L1263.8,944.3 L1264.5,944.5 L1265.2,944.7 L1266.0,944.9 L1266.8,945.1 L1267.5,945.3 L1268.2,945.5 L1269.0,945.7 L1269.8,945.9 L1270.5,946.1 L1271.2,946.3 L1272.0,946.5 L1272.8,946.7 L1273.5,946.9 L1274.2,947.1 L1275.0,947.3 L1275.8,947.5 L1276.5,947.7 L1277.2,947.9 L1278.0,948.1 L1278.8,948.3 L1279.5,948.5 L1280.2,948.7 L1281.0,948.9 L1281.8,949.0 L1282.5,949.2 L1283.2,949.4 L1284.0,949.6 L1284.8,949.8 L1285.5,950.0 L1286.2,950.2 L1287.0,950.4 L1287.8,950.5 L1288.5,950.7 L1289.2,950.9 L1290.0,951.1 L1290.8,951.3 L1291.5,951.5 L1292.2,951.6 L1293.0,951.8 L1293.8,952.0 L1294.5,952.2 L1295.2,952.4 L1296.0,952.5 L1296.8,952.7 L1297.5,952.9 L1298.2,953.1 L1299.0,953.2 L1299.8,953.4 L1300.5,953.6 L1301.2,953.7 L1302.0,953.9 L1302.8,954.1 L1303.5,954.3 L1304.2,954.4 L1305.0,954.6 L1305.8,954.8 L1306.5,954.9 L1307.2,955.1 L1308.0,955.3 L1308.8,955.4 L1309.5,955.6 L1310.2,955.8 L1311.0,955.9 L1311.8,956.1 L1312.5,956.2 L1313.2,956.4 L1314.0,956.6 L1314.8,956.7 L1315.5,956.9 L1316.2,957.1 L1317.0,957.2 L1317.8,957.4 L1318.5,957.5 L1319.2,957.7 L1320.0,957.8 L1320.8,958.0 L1321.5,958.1 L1322.2,958.3 L1323.0,958.5 L1323.8,958.6 L1324.5,958.8 L1325.2,958.9 L1326.0,959.1 L1326.8,959.2 L1327.5,959.4 L1328.2,959.5 L1329.0,959.7 L1329.8,959.8 L1330.5,960.0 L1331.2,960.1 L1332.0,960.2 L1332.8,960.4 L1333.5,960.5 L1334.2,960.7 L1335.0,960.8 L1335.8,961.0 L1336.5,961.1 L1337.2,961.3 L1338.0,961.4 L1338.8,961.5 L1339.5,961.7 L1340.2,961.8 L1341.0,962.0 L1341.8,962.1 L1342.5,962.2 L1343.2,962.4 L1344.0,962.5 L1344.8,962.6 L1345.5,962.8 L1346.2,962.9 L1347.0,963.0 L1347.8,963.2 L1348.5,963.3 L1349.2,963.4 L1350.0,963.6 L1350.8,963.7 L1351.5,963.8 L1352.2,964.0 L1353.0,964.1 L1353.8,964.2 L1354.5,964.4 L1355.2,964.5 L1356.0,964.6 L1356.8,964.7 L1357.5,964.9 L1358.2,965.0 L1359.0,965.1 L1359.8,965.2 L1360.5,965.4 L1361.2,965.5 L1362.0,965.6 L1362.8,965.7 L1363.5,965.9 L1364.2,966.0 L1365.0,966.1 L1365.8,966.2 L1366.5,966.4 L1367.2,966.5 L1368.0,966.6 L1368.8,966.7 L1369.5,966.8 L1370.2,966.9 L1371.0,967.1 L1371.8,967.2 L1372.5,967.3 L1373.2,967.4 L1374.0,967.5 L1374.8,967.6 L1375.5,967.8 L1376.2,967.9 L1377.0,968.0 L1377.8,968.1 L1378.5,968.2 L1379.2,968.3 L1380.0,968.4 L1380.8,968.5 L1381.5,968.7 L1382.2,968.8 L1383.0,968.9 L1383.8,969.0 L1384.5,969.1 L1385.2,969.2 L1386.0,969.3 L1386.8,969.4 L1387.5,969.5 L1388.2,969.6 L1389.0,969.7 L1389.8,969.8 L1390.5,969.9 L1391.2,970.0 L1392.0,970.2 L1392.8,970.3 L1393.5,970.4 L1394.2,970.5 L1395.0,970.6 L1395.8,970.7 L1396.5,970.8 L1397.2,970.9 L1398.0,971.0 L1398.8,971.1 L1399.5,971.2 L1400.2,971.3 L1401.0,971.4 L1401.8,971.5 L1402.5,971.6 L1403.2,971.7 L1404.0,971.8 L1404.8,971.9 L1405.5,971.9 L1406.2,972.0 L1407.0,972.1 L1407.8,972.2 L1408.5,972.3 L1409.2,972.4 L1410.0,972.5 L1410.8,972.6 L1411.5,972.7 L1412.2,972.8 L1413.0,972.9 L1413.8,973.0 L1414.5,973.1 L1415.2,973.2 L1416.0,973.2 L1416.8,973.3 L1417.5,973.4 L1418.2,973.5 L1419.0,973.6 L1419.8,973.7 L1420.5,973.8 L1421.2,973.9 L1422.0,974.0 L1422.8,974.0 L1423.5,974.1 L1424.2,974.2 L1425.0,974.3 L1425.8,974.4 L1426.5,974.5 L1427.2,974.6 L1428.0,974.6 L1428.8,974.7 L1429.5,974.8 L1430.2,974.9 L1431.0,975.0 L1431.8,975.1 L1432.5,975.1 L1433.2,975.2 L1434.0,975.3 L1434.8,975.4 L1435.5,975.5 L1436.2,975.5 L1437.0,975.6 L1437.8,975.7 L1438.5,975.8 L1439.2,975.9 L1440.0,975.9 L1440.8,976.0 L1441.5,976.1 L1442.2,976.2 L1443.0,976.3 L1443.8,976.3 L1444.5,976.4 L1445.2,976.5 L1446.0,976.6 L1446.8,976.6 L1447.5,976.7 L1448.2,976.8 L1449.0,976.9 L1449.8,976.9 L1450.5,977.0 L1451.2,977.1 L1452.0,977.2 L1452.8,977.2 L1453.5,977.3 L1454.2,977.4 L1455.0,977.4 L1455.8,977.5 L1456.5,977.6 L1457.2,977.7 L1458.0,977.7 L1458.8,977.8 L1459.5,977.9 L1460.2,977.9 L1461.0,978.0 L1461.8,978.1 L1462.5,978.2 L1463.2,978.2 L1464.0,978.3 L1464.8,978.4 L1465.5,978.4 L1466.2,978.5 L1467.0,978.6 L1467.8,978.6 L1468.5,978.7 L1469.2,978.8 L1470.0,978.8 L1470.8,978.9 L1471.5,979.0 L1472.2,979.0 L1473.0,979.1 L1473.8,979.2 L1474.5,979.2 L1475.2,979.3 L1476.0,979.4 L1476.8,979.4 L1477.5,979.5 L1478.2,979.6 L1479.0,979.6 L1479.8,979.7 L1480.5,979.7 L1481.2,979.8 L1482.0,979.9 L1482.8,979.9 L1483.5,980.0 L1484.2,980.1 L1485.0,980.1 L1485.8,980.2 L1486.5,980.2 L1487.2,980.3 L1488.0,980.4 L1488.8,980.4 L1489.5,980.5 L1490.2,980.5 L1491.0,980.6 L1491.8,980.7 L1492.5,980.7 L1493.2,980.8 L1494.0,980.8 L1494.8,980.9 L1495.5,981.0 L1496.2,981.0 L1497.0,981.1 L1497.8,981.1 L1498.5,981.2 L1499.2,981.2 L1500.0,981.3 L1500.8,981.4 L1501.5,981.4 L1502.2,981.5 L1503.0,981.5 L1503.8,981.6 L1504.5,981.6 L1505.2,981.7 L1506.0,981.8 L1506.8,981.8 L1507.5,981.9 L1508.2,981.9 L1509.0,982.0 L1509.8,982.0 L1510.5,982.1 L1511.2,982.1 L1512.0,982.2 L1512.8,982.3 L1513.5,982.3 L1514.2,982.4 L1515.0,982.4 L1515.8,982.5 L1516.5,982.5 L1517.2,982.6 L1518.0,982.6 L1518.8,982.7 L1519.5,982.7 L1520.2,982.8 L1521.0,982.8 L1521.8,982.9 L1522.5,982.9 L1523.2,983.0 L1524.0,983.1 L1524.8,983.1 L1525.5,983.2 L1526.2,983.2 L1527.0,983.3 L1527.8,983.3 L1528.5,983.4 L1529.2,983.4 L1530.0,983.5 L1530.8,983.5 L1531.5,983.6 L1532.2,983.6 L1533.0,983.7 L1533.8,983.7 L1534.5,983.8 L1535.2,983.8 L1536.0,983.9 L1536.8,983.9 L1537.5,984.0 L1538.2,984.0 L1539.0,984.1 L1539.8,984.1 L1540.5,984.2 L1541.2,984.2 L1542.0,984.3 L1542.8,984.3 L1543.5,984.4 L1544.2,984.4 L1545.0,984.5 L1545.8,984.5 L1546.5,984.6 L1547.2,984.6 L1548.0,984.7 L1548.8,984.7 L1549.5,984.8 L1550.2,984.8 L1551.0,984.9 L1551.8,984.9 L1552.5,985.0 L1553.2,985.0 L1554.0,985.1 L1554.8,985.1 L1555.5,985.2 L1556.2,985.2 L1557.0,985.3 L1557.8,985.3 L1558.5,985.3 L1558.9,985.4 L1563.0,987.3 L1566.0,988.8 L1569.5,991.5" stroke="#ff0000" stroke-width="8" stroke-linecap="round" stroke-linejoin="round" fill="none"/>
<g fill="#fff"><circle cx="235.5" cy="593" r="9.75"/><circle cx="308.3" cy="467.6" r="9.75"/><circle cx="408.5" cy="533" r="9.75"/><circle cx="448.4" cy="512" r="9.75"/><circle cx="528.6" cy="699.8" r="9.75"/><circle cx="595.4" cy="828.2" r="9.75"/><circle cx="748.6" cy="749.5" r="9.75"/><circle cx="828" cy="795.5" r="9.75"/><circle cx="935.4" cy="947" r="9.75"/><circle cx="1088.7" cy="884.4" r="9.75"/><circle cx="1208.5" cy="1033.4" r="9.75"/><circle cx="1408.6" cy="929" r="9.75"/><circle cx="1542.4" cy="968.4" r="9.75"/></g>
<g filter="url(#crisp)" fill="none" stroke="#0000ff" stroke-width="5.5"><circle cx="235.5" cy="593" r="9.75"/><circle cx="308.3" cy="467.6" r="9.75"/><circle cx="408.5" cy="533" r="9.75"/><circle cx="448.4" cy="512" r="9.75"/><circle cx="528.6" cy="699.8" r="9.75"/><circle cx="595.4" cy="828.2" r="9.75"/><circle cx="748.6" cy="749.5" r="9.75"/><circle cx="828" cy="795.5" r="9.75"/><circle cx="935.4" cy="947" r="9.75"/><circle cx="1088.7" cy="884.4" r="9.75"/><circle cx="1208.5" cy="1033.4" r="9.75"/><circle cx="1408.6" cy="929" r="9.75"/><circle cx="1542.4" cy="968.4" r="9.75"/></g>
<g filter="url(#crisp)" fill="#ff0000">
<rect x="224.25" y="344.25" width="21.5" height="21.5"/>
<rect x="284.75" y="272.25" width="21.5" height="21.5"/>
<rect x="384.75" y="132.75" width="21.5" height="21.5"/>
<rect x="424.75" y="384.25" width="21.5" height="21.5"/>
<rect x="504.75" y="612.25" width="21.5" height="21.5"/>
<rect x="658.25" y="647.65" width="21.5" height="21.5"/>
<rect x="751.25" y="684.15" width="21.5" height="21.5"/>
<rect x="811.25" y="854.05" width="21.5" height="21.5"/>
<rect x="918.25" y="883.15" width="21.5" height="21.5"/>
<rect x="1138.15" y="930.95" width="21.5" height="21.5"/>
<rect x="1278.25" y="905.25" width="21.5" height="21.5"/>
<rect x="1491.25" y="942.15" width="21.5" height="21.5"/>
</g>
</g>
<g filter="url(#crisp)">
<text x="202" y="59.4" text-anchor="end" font-size="60.5">630</text>
<text x="202" y="224.7" text-anchor="end" font-size="60.5">615</text>
<text x="202" y="389.9" text-anchor="end" font-size="60.5">600</text>
<text x="202" y="555.1" text-anchor="end" font-size="60.5">585</text>
<text x="202" y="720.4" text-anchor="end" font-size="60.5">570</text>
<text x="202" y="885.6" text-anchor="end" font-size="60.5">555</text>
<text x="202" y="1050.9" text-anchor="end" font-size="60.5">540</text>
<text x="234.5" y="1115" text-anchor="middle" font-size="60.5">0</text>
<text x="567.9" y="1115" text-anchor="middle" font-size="60.5">50</text>
<text x="901.2" y="1115" text-anchor="middle" font-size="60.5">100</text>
<text x="1234.6" y="1115" text-anchor="middle" font-size="60.5">150</text>
<text x="1568.0" y="1115" text-anchor="middle" font-size="60.5">200</text>
<text x="754.5" y="1182" font-size="69.4">Depth (μm)</text>
<text transform="translate(87,847) rotate(-90)" x="0" y="0" font-size="69.3">Yield strength (MPa)</text>
<text x="846.7" y="128" font-size="61.25">0.1 mmA (Fitted curve)</text>
<text x="846.7" y="202" font-size="61.25">0.2 mmA (Fitted curve)</text>
<text x="846.7" y="276" font-size="61.25">0.1 mmA (Experimental data)</text>
<text x="846.7" y="350" font-size="61.25">0.2 mmA (Experimental data)</text>
</g>
<g filter="url(#crisp)"><path d="M726,113 H741 M756.8,113 H772 M787.9,113 H803.1" stroke="#0000ff" stroke-width="8" stroke-linecap="round" fill="none"/>
<path d="M726,187 H832.1" stroke="#ff0000" stroke-width="8" stroke-linecap="round" fill="none"/>
<rect x="768" y="324" width="22" height="22" fill="#ff0000"/></g>
<circle cx="779.4" cy="260.9" r="9.8" fill="#fff"/>
<g filter="url(#crisp)"><circle cx="779.4" cy="260.9" r="9.8" fill="none" stroke="#0000ff" stroke-width="5.5"/></g>
</svg>
</body></html>
